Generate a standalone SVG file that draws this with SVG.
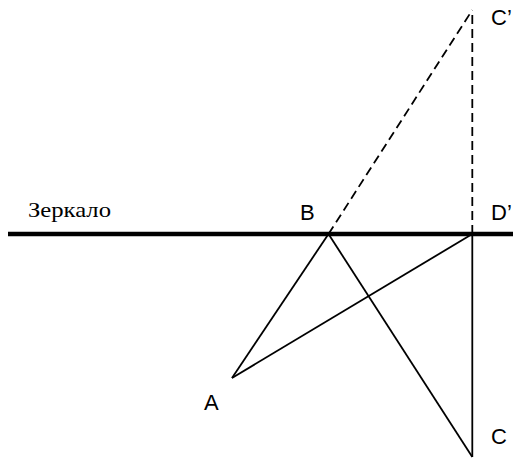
<svg xmlns="http://www.w3.org/2000/svg" width="513" height="458" viewBox="0 0 513 458">
<style>
.lbl{font-family:"Liberation Sans",Arial,sans-serif;font-size:22px;fill:#000}
.ser{font-family:"Liberation Serif","Times New Roman",serif;font-size:21px;fill:#000}
.ln{stroke:#000;stroke-width:1.8;fill:none;stroke-linecap:butt}
.dash{stroke:#000;stroke-width:1.8;fill:none;stroke-dasharray:9 5}
.mirror{stroke:#000;stroke-width:4.5;fill:none}
</style>
<rect width="513" height="458" fill="#fff"/>
<g id="connectors">
<line class="mirror" x1="8" y1="234" x2="513" y2="234"/>
<line class="dash" x1="328.5" y1="234" x2="472.3" y2="10"/>
<line class="dash" x1="472.3" y1="234" x2="472.3" y2="10"/>
<line class="ln" x1="328.5" y1="234" x2="232" y2="378"/>
<line class="ln" x1="232" y1="378" x2="472.3" y2="234"/>
<line class="ln" x1="328.5" y1="234" x2="472.3" y2="457"/>
<line class="ln" x1="472.3" y1="234" x2="472.3" y2="457"/>
</g>
<g id="mirror-label"><text class="ser" x="28" y="217" textLength="83" lengthAdjust="spacingAndGlyphs">Зеркало</text></g>
<g id="B"><text class="lbl" x="300" y="220">B</text></g>
<g id="D1"><text class="lbl" x="491" y="220">D’</text></g>
<g id="C1"><text class="lbl" x="491" y="25">C’</text></g>
<g id="A"><text class="lbl" x="204" y="410">A</text></g>
<g id="C"><text class="lbl" x="491" y="444">C</text></g>
</svg>
